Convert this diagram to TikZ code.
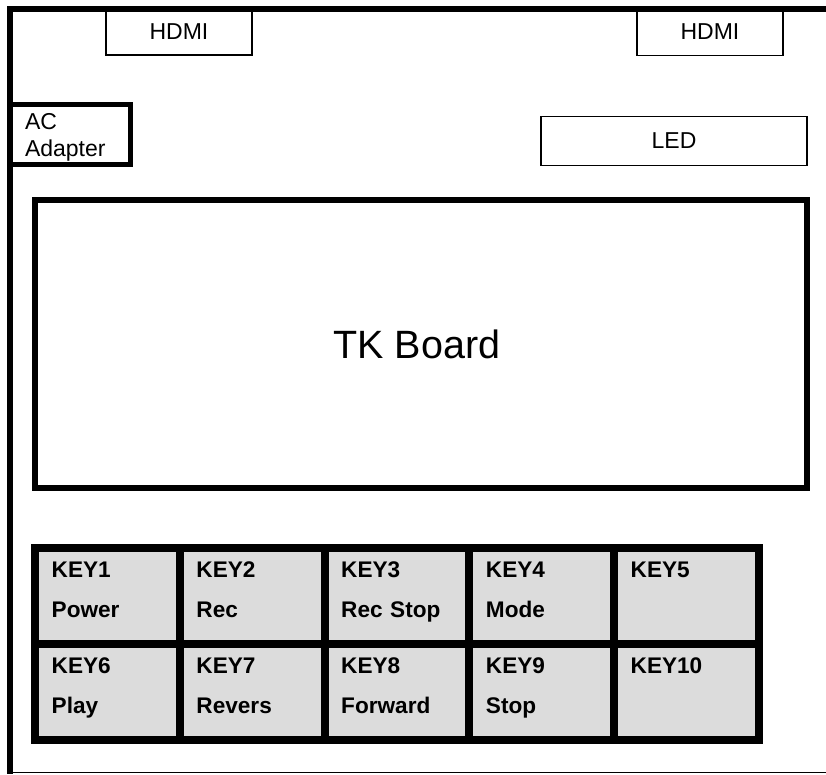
\documentclass[tikz,border=0pt]{standalone}
\usepackage{fontspec}
\setmainfont{Liberation Sans}
\usepackage{xcolor}
\usetikzlibrary{positioning}
\definecolor{keyGray}{HTML}{DCDCDC}
\tikzset{
  port/.style={rectangle, draw=black, line width=1.5pt, fill=white, minimum width=146pt, minimum height=46.5pt, font=\fontsize{23}{27.6}\selectfont},
  board/.style={rectangle, draw=black, line width=6pt, minimum width=772.5pt, minimum height=288pt, font=\fontsize{39.5}{47}\selectfont},
  adapter/.style={rectangle, draw=black, line width=5pt, outer sep=0pt, inner xsep=15pt, inner ysep=8.4pt, text width=90.5pt, text height=16.5pt, text depth=26.7pt, align=left, font=\fontsize{23}{26.7}\selectfont},
  key/.style={rectangle, draw=black, fill=keyGray, line width=8pt, outer sep=0pt, inner xsep=16.7pt, inner ysep=13.5pt, text width=111.35pt, text height=16.2pt, text depth=53pt, align=left, font=\fontsize{22.6}{39.6}\selectfont\bfseries},
  frame/.style={draw=black, line width=6pt}
}
\begin{document}
\begin{tikzpicture}[x=1pt, y=-1pt, node distance=0pt]
\useasboundingbox (0,0) rectangle (826,774);
% connectors along the top edge
\node[port] (hdmiL) at (179,31.5) {HDMI};
\node[port] (hdmiR) at (710,32) {HDMI};
\node[port, minimum width=266pt, minimum height=49pt] (led) at (674,141) {LED};
\node[adapter, anchor=north west] (adapter) at (10,104.5) {AC\\Adapter};
% main board
\node[board] (tk) at (420.75,344.3) {\hspace*{-8pt}TK Board};
% key pad
\node[key, anchor=north west] (key1) at (35,548) {KEY1\\Power};
\node[key, right=of key1] (key2) {KEY2\\Rec};
\node[key, right=of key2] (key3) {KEY3\\Rec Stop};
\node[key, right=of key3] (key4) {KEY4\\Mode};
\node[key, right=of key4] (key5) {KEY5};
\node[key, below=of key1] (key6) {KEY6\\Play};
\node[key, right=of key6] (key7) {KEY7\\Revers};
\node[key, right=of key7] (key8) {KEY8\\Forward};
\node[key, right=of key8] (key9) {KEY9\\Stop};
\node[key, right=of key9] (key10) {KEY10};
% enclosure edges
\draw[frame] (826,9) -- (10,9) -- (10,774);
\draw[line width=1.5pt] (10,772.5) -- (826,772.5);
\end{tikzpicture}
\end{document}
